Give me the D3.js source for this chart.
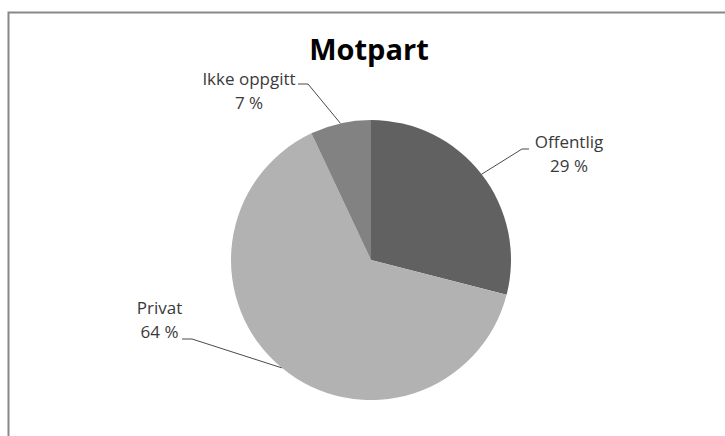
<!DOCTYPE html>
<html><head><meta charset="utf-8">
<script src="https://cdn.jsdelivr.net/npm/d3@7"></script>
<style>html,body{margin:0;padding:0;background:#fff;}svg{display:block;}</style>
</head><body>
<svg id="chart" width="725" height="436"></svg>
<script>
const title = "Motpart";
const categories = ["Offentlig", "Privat", "Ikke oppgitt"];
const values = [29, 64, 7];
const labels = ["29 %", "64 %", "7 %"];
const colors = ["#616161", "#b2b2b2", "#828282"];

const svg = d3.select("#chart");
const cx = 371, cy = 260, R = 140;

// frame
svg.append("rect").attr("x", 8.5).attr("y", 12.5).attr("width", 730).attr("height", 440)
  .attr("fill", "#fff").attr("stroke", "#888").attr("stroke-width", 2);

svg.append("text").attr("x", 369).attr("y", 60).attr("text-anchor", "middle")
  .attr("font-family", "Open Sans, sans-serif").attr("font-weight", "bold")
  .attr("font-size", 29).attr("fill", "#000").text(title);

const data = categories.map((c, i) => ({cat: c, value: values[i], label: labels[i], color: colors[i]}));
const pie = d3.pie().sort(null).value(d => d.value);
const arcs = pie(data);
const arc = d3.arc().innerRadius(0).outerRadius(R);

const g = svg.append("g").attr("transform", `translate(${cx},${cy})`);
g.selectAll("path").data(arcs).join("path")
  .attr("d", arc).attr("fill", d => d.data.color);

// label layout (relative to pie centre): elbow point, elbow end, text centre (first baseline)
const layout = {
  "Offentlig":    {elbow: [151, -111], end: [158, -111], text: [198, -112]},
  "Privat":       {elbow: [-179, 79], end: [-189, 79], text: [-211.5, 54]},
  "Ikke oppgitt": {elbow: [-63, -176], end: [-73, -176], text: [-122, -175]}
};

arcs.forEach(a => {
  const L = layout[a.data.cat];
  const mid = (a.startAngle + a.endAngle) / 2;
  const p0 = [R * Math.sin(mid), -R * Math.cos(mid)];
  g.append("polyline")
    .attr("points", [p0, L.elbow, L.end].map(p => p.join(",")).join(" "))
    .attr("fill", "none").attr("stroke", "#4a4a4a").attr("stroke-width", 1);
  const t = g.append("text").attr("text-anchor", "middle")
    .attr("font-family", "Open Sans, sans-serif").attr("font-size", 17).attr("fill", "#3a3a3a");
  t.append("tspan").attr("x", L.text[0]).attr("y", L.text[1]).text(a.data.cat);
  t.append("tspan").attr("x", L.text[0]).attr("y", L.text[1] + 23.5).text(a.data.label);
});
</script>
</body></html>
